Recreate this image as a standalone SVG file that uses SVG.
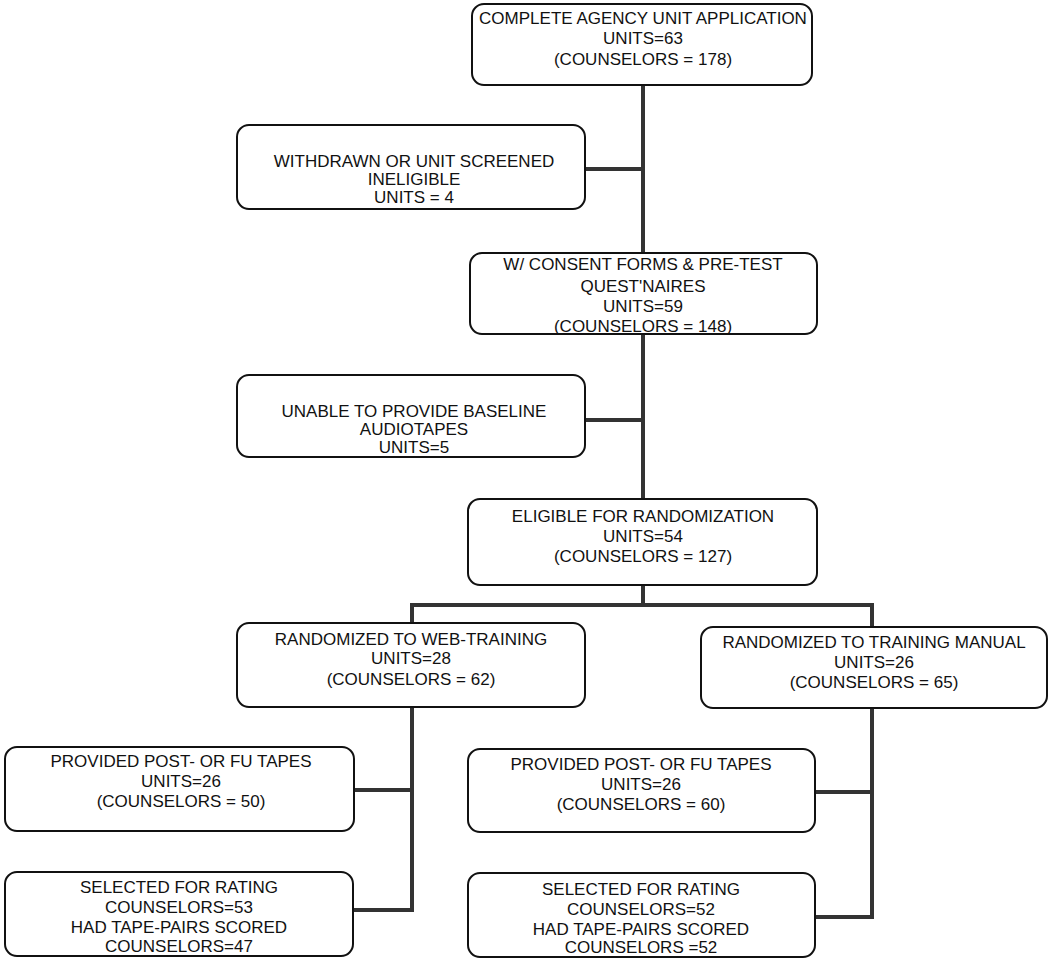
<svg xmlns="http://www.w3.org/2000/svg" width="1050" height="963" viewBox="0 0 1050 963">
<style>
.box{fill:#fff;stroke:#111;stroke-width:2}
.t{font-family:"Liberation Sans",Arial,sans-serif;font-size:17px;fill:#111;text-anchor:middle}
.c{fill:none;stroke:#333;stroke-width:4;stroke-linejoin:miter}
</style>
<rect width="1050" height="963" fill="#fff"/>
<g id="connectors">
<path class="c" d="M643 85V605"/>
<path class="c" d="M585 169H643"/>
<path class="c" d="M585 420H643"/>
<path class="c" d="M412 623V605H872V627"/>
<path class="c" d="M412 707V910H353"/>
<path class="c" d="M354 790H412"/>
<path class="c" d="M872 708V917H815"/>
<path class="c" d="M815 792H872"/>
</g>
<g id="n1"><rect class="box" x="472" y="4" width="340" height="81" rx="12"/>
<text class="t" x="643" y="24">COMPLETE AGENCY UNIT APPLICATION</text>
<text class="t" x="643" y="44">UNITS=63</text>
<text class="t" x="643" y="65">(COUNSELORS = 178)</text></g>
<g id="n2"><rect class="box" x="237" y="125" width="348" height="84" rx="12"/>
<text class="t" x="414" y="167">WITHDRAWN OR UNIT SCREENED</text>
<text class="t" x="414" y="185">INELIGIBLE</text>
<text class="t" x="414" y="203">UNITS = 4</text></g>
<g id="n3"><rect class="box" x="470" y="253" width="347" height="81" rx="12"/>
<text class="t" x="643" y="270">W/ CONSENT FORMS &amp; PRE-TEST</text>
<text class="t" x="643" y="292">QUEST'NAIRES</text>
<text class="t" x="643" y="312">UNITS=59</text>
<text class="t" x="643" y="332">(COUNSELORS = 148)</text></g>
<g id="n4"><rect class="box" x="237" y="375" width="348" height="82" rx="12"/>
<text class="t" x="414" y="417">UNABLE TO PROVIDE BASELINE</text>
<text class="t" x="414" y="435">AUDIOTAPES</text>
<text class="t" x="414" y="453">UNITS=5</text></g>
<g id="n5"><rect class="box" x="468" y="499" width="349" height="86" rx="12"/>
<text class="t" x="643" y="522">ELIGIBLE FOR RANDOMIZATION</text>
<text class="t" x="643" y="542">UNITS=54</text>
<text class="t" x="643" y="562">(COUNSELORS = 127)</text></g>
<g id="n6"><rect class="box" x="237" y="623" width="348" height="84" rx="12"/>
<text class="t" x="411" y="645">RANDOMIZED TO WEB-TRAINING</text>
<text class="t" x="411" y="664">UNITS=28</text>
<text class="t" x="411" y="685">(COUNSELORS = 62)</text></g>
<g id="n7"><rect class="box" x="701" y="627" width="346" height="81" rx="12"/>
<text class="t" x="874" y="648">RANDOMIZED TO TRAINING MANUAL</text>
<text class="t" x="874" y="668">UNITS=26</text>
<text class="t" x="874" y="688">(COUNSELORS = 65)</text></g>
<g id="n8"><rect class="box" x="5" y="747" width="349" height="84" rx="12"/>
<text class="t" x="181" y="767">PROVIDED POST- OR FU TAPES</text>
<text class="t" x="181" y="787">UNITS=26</text>
<text class="t" x="181" y="807">(COUNSELORS = 50)</text></g>
<g id="n9"><rect class="box" x="468" y="749" width="347" height="83" rx="12"/>
<text class="t" x="641" y="770">PROVIDED POST- OR FU TAPES</text>
<text class="t" x="641" y="790">UNITS=26</text>
<text class="t" x="641" y="810">(COUNSELORS = 60)</text></g>
<g id="n10"><rect class="box" x="5" y="872" width="348" height="84" rx="12"/>
<text class="t" x="179" y="893">SELECTED FOR RATING</text>
<text class="t" x="179" y="913">COUNSELORS=53</text>
<text class="t" x="179" y="933">HAD TAPE-PAIRS SCORED</text>
<text class="t" x="179" y="952">COUNSELORS=47</text></g>
<g id="n11"><rect class="box" x="468" y="873" width="347" height="84" rx="12"/>
<text class="t" x="641" y="895">SELECTED FOR RATING</text>
<text class="t" x="641" y="915">COUNSELORS=52</text>
<text class="t" x="641" y="935">HAD TAPE-PAIRS SCORED</text>
<text class="t" x="641" y="953">COUNSELORS =52</text></g>
</svg>
